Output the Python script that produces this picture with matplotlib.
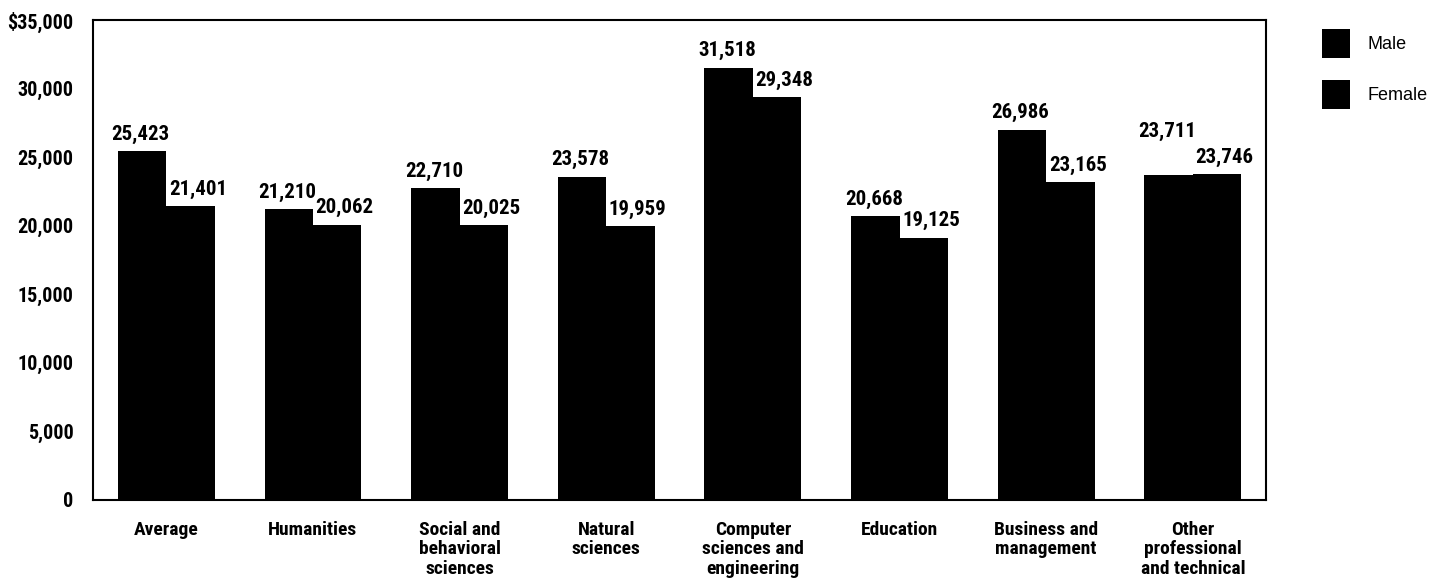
import matplotlib
matplotlib.use("Agg")
import matplotlib.pyplot as plt
import numpy as np
from matplotlib.ticker import FuncFormatter

categories = ["Average", "Humanities", "Social and\nbehavioral\nsciences",
              "Natural\nsciences", "Computer\nsciences and\nengineering",
              "Education", "Business and\nmanagement",
              "Other\nprofessional\nand technical"]
male = [25423, 21210, 22710, 23578, 31518, 20668, 26986, 23711]
female = [21401, 20062, 20025, 19959, 29348, 19125, 23165, 23746]
yticks = [0, 5000, 10000, 15000, 20000, 25000, 30000, 35000]

narrow = ["Roboto Condensed", "Liberation Sans", "DejaVu Sans"]

fig = plt.figure(figsize=(14.52, 5.86), dpi=100)
ax = fig.add_axes([0.064, 0.147, 0.808, 0.819])

x = np.arange(len(categories))
w = 0.33
ax.bar(x - w / 2, male, width=w, color="black", label="Male")
ax.bar(x + w / 2, female, width=w, color="black", label="Female")

for xi, m, f in zip(x, male, female):
    # lift the male label where the two labels would otherwise collide
    lift = 1900 if abs(m - f) < 500 else 0
    ax.text(xi - w / 2 - 0.01, m + 850 + lift, f"{m:,}", ha="center", va="baseline",
            fontsize=15, fontweight="bold", family=narrow)
    ax.text(xi + w / 2 + 0.05, f + 850, f"{f:,}", ha="center", va="baseline",
            fontsize=15, fontweight="bold", family=narrow)

ax.set_xlim(-0.5, len(categories) - 0.5)
ax.set_ylim(0, 35000)
ax.set_yticks(yticks)
ax.yaxis.set_major_formatter(FuncFormatter(
    lambda v, p: f"${v:,.0f}" if v == 35000 else f"{v:,.0f}"))
ax.set_xticks(x)
ax.set_xticklabels(categories, fontsize=14, fontweight="bold", family=narrow,
                   linespacing=1.12)
for lab in ax.get_yticklabels():
    lab.set_fontsize(14.5)
    lab.set_fontweight("bold")
    lab.set_family(narrow)
ax.tick_params(axis="both", length=0)
ax.tick_params(axis="x", pad=15)
ax.tick_params(axis="y", pad=14)
for s in ax.spines.values():
    s.set_linewidth(1.5)

fig.legend(loc="upper left", bbox_to_anchor=(0.899, 0.979), frameon=False,
           handlelength=1.55, handleheight=2.15,
           labelspacing=1.18, handletextpad=1.0,
           prop={"family": "Liberation Sans", "size": 13})

fig.savefig("out.png", dpi=100)
